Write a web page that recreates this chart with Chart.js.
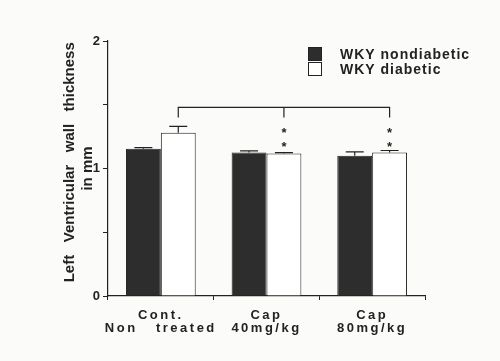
<!DOCTYPE html>
<html lang="en">
<head>
<meta charset="UTF-8">
<title>Left ventricular wall thickness</title>
<script src="https://cdn.jsdelivr.net/npm/chart.js@4.4.0/dist/chart.umd.min.js"></script>
<style>
    html, body {
        margin: 0;
        padding: 0;
        background: #fbfbf9;
    }
</style>
</head>
<body>
<canvas id="lvw-chart" width="500" height="361"></canvas>
<script>
    // data
    const groups = [['Cont.', 'Non   treated'], ['Cap', '40mg/kg'], ['Cap', '80mg/kg']];
    const seriesNames = ['WKY nondiabetic', 'WKY diabetic'];
    const nondiabetic = [1.155, 1.125, 1.10];
    const nondiabeticErr = [0.008, 0.014, 0.03];
    const diabetic = [1.28, 1.117, 1.125];
    const diabeticErr = [0.05, 0.008, 0.016];
    const yTicks = [0, 1, 2];
    // significance bracket over the diabetic bars, stars over groups 2 and 3
    const bracketTop = 1.48;
    const bracketDrop = 1.40;
    const starGroups = [1, 2];
    const starLevels = [1.30, 1.19];

    const ink = '#222222';
    const darkFill = '#2d2d2d';

    const paperPlugin = {
        id: 'paper',
        beforeUpdate(chart) {
            chart.ctx.letterSpacing = '0px';
        },
        beforeDraw(chart) {
            const ctx = chart.ctx;
            ctx.save();
            ctx.fillStyle = '#fbfbf9';
            ctx.fillRect(0, 0, chart.width, chart.height);
            ctx.restore();
            // x labels are drawn in this pass: spaced out like the original
            ctx.letterSpacing = '2.5px';
        },
        beforeDatasetsDraw(chart) {
            chart.ctx.letterSpacing = '0px';
        }
    };

    const errorBarPlugin = {
        id: 'errorBars',
        afterDatasetsDraw(chart) {
            const ctx = chart.ctx;
            const y = chart.scales.y;
            const errs = [nondiabeticErr, diabeticErr];
            ctx.save();
            ctx.strokeStyle = ink;
            ctx.lineWidth = 1.2;
            chart.data.datasets.forEach((ds, di) => {
                chart.getDatasetMeta(di).data.forEach((bar, i) => {
                    const top = y.getPixelForValue(ds.data[i]);
                    const end = y.getPixelForValue(ds.data[i] + errs[di][i]);
                    ctx.beginPath();
                    ctx.moveTo(bar.x, top);
                    ctx.lineTo(bar.x, end);
                    ctx.moveTo(bar.x - 9, end);
                    ctx.lineTo(bar.x + 9, end);
                    ctx.stroke();
                });
            });

            // bracket
            const pts = chart.getDatasetMeta(1).data.map(b => b.x);
            const yTop = y.getPixelForValue(bracketTop);
            const yDrop = y.getPixelForValue(bracketDrop);
            ctx.beginPath();
            ctx.moveTo(pts[0], yDrop);
            ctx.lineTo(pts[0], yTop);
            ctx.lineTo(pts[pts.length - 1], yTop);
            ctx.lineTo(pts[pts.length - 1], yDrop);
            for (let i = 1; i < pts.length - 1; i++) {
                ctx.moveTo(pts[i], yTop);
                ctx.lineTo(pts[i], yDrop);
            }
            ctx.stroke();

            // stars
            ctx.fillStyle = ink;
            ctx.font = 'bold 13px "Liberation Sans", Arial, sans-serif';
            ctx.textAlign = 'center';
            ctx.textBaseline = 'middle';
            starGroups.forEach(g => {
                starLevels.forEach(v => {
                    ctx.fillText('*', pts[g], y.getPixelForValue(v) + 3);
                });
            });
            ctx.restore();
        }
    };

    const boxLegendPlugin = {
        id: 'boxLegend',
        afterDraw(chart) {
            const ctx = chart.ctx;
            ctx.save();
            ctx.letterSpacing = '1px';
            ctx.font = 'bold 14px "Liberation Sans", Arial, sans-serif';
            ctx.textBaseline = 'middle';
            ctx.textAlign = 'left';
            chart.data.datasets.forEach((ds, i) => {
                const top = 47 + i * 15;
                ctx.fillStyle = ds.backgroundColor;
                ctx.fillRect(308, top, 14, 14);
                ctx.strokeStyle = ink;
                ctx.lineWidth = 1;
                ctx.strokeRect(308.5, top + 0.5, 13, 13);
                ctx.fillStyle = ink;
                ctx.fillText(ds.label, 340, top + 8);
            });
            ctx.restore();
        }
    };

    new Chart(document.getElementById('lvw-chart'), {
        type: 'bar',
        data: {
            labels: groups,
            datasets: [
                {
                    label: seriesNames[0],
                    data: nondiabetic,
                    backgroundColor: darkFill,
                    borderColor: ink,
                    borderWidth: 1
                },
                {
                    label: seriesNames[1],
                    data: diabetic,
                    backgroundColor: '#ffffff',
                    borderColor: ink,
                    borderWidth: 1
                }
            ]
        },
        options: {
            responsive: false,
            animation: false,
            layout: { padding: { top: 41, right: 75, left: 0, bottom: 0 } },
            datasets: {
                bar: { categoryPercentage: 0.66, barPercentage: 1.0 }
            },
            plugins: {
                legend: { display: false },
                tooltip: { enabled: false }
            },
            scales: {
                x: {
                    grid: { display: true, drawOnChartArea: false, drawTicks: true, tickLength: 4, color: ink, offset: true },
                    border: { display: true, color: ink, width: 1.2 },
                    ticks: {
                        color: ink,
                        padding: 9,
                        font: { family: '"Liberation Sans", Arial, sans-serif', size: 13, weight: 'bold', lineHeight: 1.0 }
                    },
                    afterFit(scale) { scale.height = 65; }
                },
                y: {
                    min: 0,
                    max: 2,
                    // title is drawn with the grid layer; keep grid, border and ticks after the bars
                    grid: { z: 1, display: true, drawOnChartArea: false, drawTicks: true, tickLength: 5, color: ink },
                    border: { z: 1, display: true, color: ink, width: 1.2 },
                    ticks: {
                        z: 1,
                        stepSize: 0.5,
                        color: ink,
                        padding: 3,
                        font: { family: '"Liberation Sans", Arial, sans-serif', size: 13, weight: 'bold' },
                        callback: v => yTicks.includes(v) ? String(v) : ''
                    },
                    title: {
                        display: true,
                        text: ['   Left   Ventricular   wall   thickness', 'in mm'],
                        color: ink,
                        padding: { top: 60, bottom: 0 },
                        font: { family: '"Liberation Sans", Arial, sans-serif', size: 15, weight: 'bold', lineHeight: 1.25 }
                    },
                    afterFit(scale) { scale.width = 108; }
                }
            }
        },
        plugins: [paperPlugin, errorBarPlugin, boxLegendPlugin]
    });
</script>
</body>
</html>
